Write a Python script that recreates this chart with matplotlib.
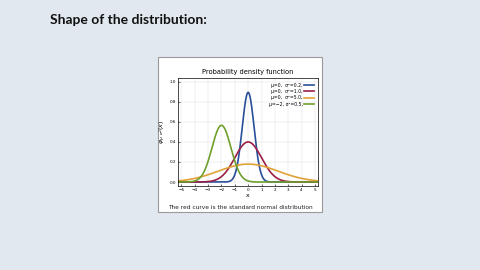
import numpy as np
import matplotlib
matplotlib.use("Agg")
import matplotlib.pyplot as plt
from matplotlib.patches import Rectangle

# Data: parameters of each plotted normal density (from legend)
means = [0, 0, 0, -2]
variances = [0.2, 1.0, 5.0, 0.5]
labels = ["μ=0,  σ²=0.2,", "μ=0,  σ²=1.0,", "μ=0,  σ²=5.0,", "μ=−2, σ²=0.5,"]
colors = ["#2a4f9a", "#9b1f45", "#e0a236", "#6f9f2c"]
x_ticks = [-5, -4, -3, -2, -1, 0, 1, 2, 3, 4, 5]
y_ticks = [0.0, 0.2, 0.4, 0.6, 0.8, 1.0]

fig = plt.figure(figsize=(4.8, 2.7), dpi=100)
fig.patch.set_facecolor("#e2e8f0")

# slide title
fig.text(0.105, 0.925, "Shape of the distribution:", fontsize=10, fontweight="bold",
         family="Lato", color="#111111", va="center", ha="left")

# white panel for the image
fig.patches.append(Rectangle((0.329, 0.215), 0.342, 0.574, transform=fig.transFigure,
                             facecolor="white", edgecolor="#9a9a9a", linewidth=0.8, zorder=-5))

ax = fig.add_axes([0.371, 0.311, 0.292, 0.4])
ax.set_zorder(5)
xs = np.linspace(-5.2, 5.2, 600)
for m, v, lab, c in zip(means, variances, labels, colors):
    ys = np.exp(-(xs - m) ** 2 / (2 * v)) / np.sqrt(2 * np.pi * v)
    ax.plot(xs, ys, color=c, lw=1.2, label=lab)

ax.set_xlim(-5.25, 5.25)
ax.set_ylim(-0.04, 1.035)
ax.set_xticks(x_ticks)
ax.set_yticks(y_ticks)
ax.tick_params(labelsize=3, length=1.5, width=0.4, pad=1.5, direction="in")
ax.grid(True, color="#dddddd", lw=0.3)
for s in ax.spines.values():
    s.set_linewidth(0.5)
ax.set_title("Probability density function", fontsize=4.8, pad=3)
ax.set_xlabel("x", fontsize=4.5, labelpad=0.5)
ax.set_ylabel(r"$\varphi_{\mu,\sigma^2}(x)$", fontsize=4.5, labelpad=1)
ax.legend(loc="upper right", fontsize=3.3, frameon=False, markerfirst=False,
          handlelength=2.0, handletextpad=0.4, labelspacing=0.3, borderaxespad=0.6)

fig.text(0.5, 0.233, "The red curve is the standard normal distribution", fontsize=4.2,
         ha="center", va="center", color="#222222", zorder=6)

fig.savefig("out.png", dpi=100, facecolor=fig.get_facecolor())
